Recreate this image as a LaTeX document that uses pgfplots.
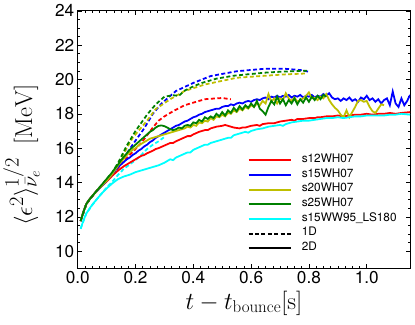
\documentclass[border=0pt]{standalone}
\usepackage[no-math]{fontspec}
\setmainfont{TeX Gyre Heros}
\usepackage{pgfplots}
\pgfplotsset{compat=1.18}
\DeclareMathSizes{24}{24}{20}{15}

\definecolor{myyellow}{rgb}{0.75,0.75,0}
\definecolor{mygreen}{rgb}{0,0.5,0}
\definecolor{mycyan}{rgb}{0,1,1}

\begin{document}
\begin{tikzpicture}
% fixed frame, same proportions as the reference
\path (-73bp,-57bp) rectangle (342bp,272bp);
\begin{axis}[
    scale only axis,
    width=337bp, height=261bp,
    xmin=0, xmax=1.15,
    ymin=9, ymax=24,
    xtick={0,0.2,0.4,0.6,0.8,1.0},
    ytick={10,12,14,16,18,20,22,24},
    minor x tick num=7,
    minor y tick num=3,
    major tick length=4bp,
    minor tick length=2bp,
    tick align=inside,
    axis line style={line width=0.8bp},
    every tick/.style={black, line width=0.5bp},
    tick label style={font=\fontsize{17.5}{19}\selectfont},
    /pgf/number format/assume math mode=true,
    xticklabel style={/pgf/number format/fixed, /pgf/number format/fixed zerofill, /pgf/number format/precision=1},
    xlabel={\fontsize{26}{28}\selectfont $t - t_{\mathrm{bounce}}[\mathrm{s}]$},
    ylabel={\fontsize{24}{26}\selectfont $\langle\epsilon^2\rangle^{1/2}_{\bar{\nu}_e}\;\;[\mathrm{MeV}]$},
    every axis y label/.style={at={(axis description cs:-0.104,0.44)}, rotate=90, anchor=south},
    legend image code/.code={\draw[#1] (0bp,0bp) -- (43bp,0bp);},
    legend style={at={(axis description cs:0.511,0.446)}, anchor=north west,
        draw=none, fill=none, font=\fontsize{12}{13}\selectfont,
        inner sep=0pt, row sep=1.2bp, column sep=8bp,
        nodes={inner ysep=0pt, text height=9bp, text depth=4.67bp}},
    legend cell align=left,
]

% ---- 1D (dashed) ----
\addplot[red, line width=1.8bp, dash pattern=on 4bp off 2.5bp, forget plot] coordinates {
(0.01,11.75) (0.03,12.75) (0.06,13.4) (0.10,14.1) (0.12,14.5) (0.14,14.85)
(0.16,15.25) (0.18,15.6) (0.20,15.95) (0.22,16.3) (0.24,16.75) (0.26,17.2)
(0.28,17.6) (0.30,17.85) (0.33,18.15) (0.37,18.5) (0.40,18.65) (0.44,18.85)
(0.48,18.9) (0.50,18.92) (0.53,18.85)
};
\addplot[blue, line width=1.8bp, dash pattern=on 4bp off 2.5bp, forget plot] coordinates {
(0.01,11.75) (0.03,12.75) (0.06,13.4) (0.10,14.1) (0.12,14.5) (0.15,15.2)
(0.19,16.2) (0.23,17.15) (0.26,18.0) (0.29,18.6) (0.34,19.33) (0.40,19.8)
(0.46,20.2) (0.55,20.48) (0.65,20.63) (0.72,20.62) (0.77,20.55) (0.80,20.45)
};
\addplot[myyellow, line width=1.8bp, dash pattern=on 4bp off 2.5bp, forget plot] coordinates {
(0.01,11.75) (0.03,12.75) (0.06,13.4) (0.10,14.1) (0.12,14.5) (0.15,15.4)
(0.19,16.6) (0.24,17.6) (0.27,18.28) (0.32,18.85) (0.37,19.33) (0.44,19.71)
(0.55,20.1) (0.65,20.22) (0.72,20.3) (0.79,20.35)
};
\addplot[mygreen, line width=1.8bp, dash pattern=on 4bp off 2.5bp, forget plot] coordinates {
(0.01,11.75) (0.03,12.75) (0.06,13.4) (0.10,14.2) (0.12,14.6) (0.14,15.15)
(0.17,16.15) (0.20,17.0) (0.24,17.95) (0.27,18.55) (0.30,19.0) (0.33,19.08)
(0.35,19.05) (0.37,19.35) (0.40,19.6) (0.43,19.8) (0.48,20.05) (0.54,20.22)
(0.60,20.32) (0.65,20.4) (0.70,20.45) (0.77,20.5) (0.80,20.52)
};
\addplot[mycyan, line width=1.8bp, dash pattern=on 4bp off 2.5bp, forget plot] coordinates {
(0.01,11.3) (0.03,12.2) (0.06,12.9) (0.10,13.7) (0.12,14.05) (0.14,14.45)
(0.16,14.8) (0.18,15.05) (0.20,15.3) (0.22,15.6) (0.24,15.95) (0.26,16.2)
(0.28,16.4) (0.30,16.65)
};

% ---- 2D (solid) ----
\addplot[red, line width=1.8bp] coordinates {
(0.01,11.75) (0.02,12.3) (0.03,12.75) (0.04,13.0) (0.05,13.2) (0.06,13.4)
(0.08,13.75) (0.10,14.05) (0.12,14.4) (0.14,14.7) (0.16,14.95) (0.18,15.15)
(0.20,15.35) (0.22,15.55) (0.23,15.6) (0.24,15.7) (0.26,15.85) (0.27,15.95)
(0.28,16.0) (0.30,16.15) (0.32,16.3) (0.33,16.3) (0.34,16.4) (0.36,16.55)
(0.38,16.7) (0.39,16.7) (0.40,16.8) (0.42,16.95) (0.44,17.05) (0.45,17.05)
(0.46,17.15) (0.48,17.25) (0.50,17.3) (0.51,17.35) (0.52,17.3) (0.54,17.2)
(0.56,17.15) (0.57,17.2) (0.58,17.2) (0.60,17.3) (0.62,17.35) (0.63,17.3)
(0.64,17.4) (0.66,17.45) (0.68,17.45) (0.69,17.5) (0.70,17.55) (0.72,17.6)
(0.74,17.65) (0.75,17.6) (0.76,17.7) (0.78,17.7) (0.80,17.75) (0.82,17.75)
(0.83,17.8) (0.84,17.8) (0.86,17.85) (0.88,17.85) (0.90,17.9) (0.92,17.85)
(0.94,17.9) (0.96,17.95) (0.98,17.95) (1.00,18.0) (1.02,17.95) (1.04,18.0)
(1.06,18.0) (1.08,18.05) (1.10,18.0) (1.12,18.05) (1.15,18.1)
};
\addlegendentry{s12WH07}
\addplot[blue, line width=1.8bp] coordinates {
(0.01,11.75) (0.02,12.3) (0.03,12.75) (0.04,13.0) (0.05,13.2) (0.06,13.4)
(0.07,13.55) (0.08,13.75) (0.09,13.9) (0.10,14.1) (0.11,14.3) (0.12,14.5)
(0.13,14.7) (0.14,14.9) (0.15,15.05) (0.16,15.2) (0.17,15.35) (0.18,15.45)
(0.19,15.6) (0.20,15.7) (0.21,15.85) (0.22,15.95) (0.23,16.1) (0.24,16.2)
(0.25,16.35) (0.26,16.45) (0.27,16.6) (0.28,16.7) (0.29,16.8) (0.30,16.9)
(0.31,17.0) (0.32,17.1) (0.33,17.2) (0.34,17.3) (0.35,17.35) (0.36,17.45)
(0.37,17.55) (0.38,17.6) (0.39,17.7) (0.40,17.8) (0.41,17.85) (0.42,17.95)
(0.43,18.0) (0.44,18.1) (0.45,18.15) (0.46,18.2) (0.47,18.25) (0.48,18.3)
(0.49,18.3) (0.50,18.4) (0.51,18.45) (0.52,18.45) (0.53,18.55) (0.54,18.5)
(0.55,18.6) (0.56,18.65) (0.57,18.6) (0.58,18.7) (0.59,18.75) (0.60,18.7)
(0.61,18.8) (0.62,18.85) (0.63,18.8) (0.64,18.9) (0.65,18.95) (0.66,18.85)
(0.67,19.0) (0.68,18.95) (0.69,19.05) (0.70,18.95) (0.71,19.05) (0.72,19.0)
(0.73,19.1) (0.74,18.95) (0.75,19.05) (0.76,19.0) (0.77,19.1) (0.78,18.95)
(0.79,19.05) (0.80,19.0) (0.81,19.1) (0.82,18.95) (0.83,19.05) (0.84,19.0)
(0.85,19.15) (0.86,19.05) (0.87,19.2) (0.88,18.95) (0.89,18.85) (0.90,18.9)
(0.91,18.75) (0.92,18.9) (0.93,18.8) (0.94,18.95) (0.95,18.75) (0.96,18.85)
(0.97,18.7) (0.98,18.95) (0.99,18.85) (1.00,19.05) (1.01,18.8) (1.02,18.9)
(1.03,18.7) (1.04,18.85) (1.05,18.6) (1.06,18.8) (1.07,18.9) (1.08,18.5)
(1.09,19.3) (1.10,18.6) (1.11,18.4) (1.12,18.9) (1.13,18.5) (1.14,18.75)
(1.15,19.1)
};
\addlegendentry{s15WH07}
\addplot[myyellow, line width=1.8bp] coordinates {
(0.01,11.75) (0.02,12.3) (0.03,12.75) (0.04,13.0) (0.05,13.2) (0.06,13.4)
(0.08,13.75) (0.10,14.1) (0.12,14.5) (0.13,14.75) (0.14,15.0) (0.15,15.2)
(0.16,15.4) (0.17,15.6) (0.18,15.75) (0.19,15.9) (0.20,16.0) (0.21,16.15)
(0.22,16.25) (0.23,16.35) (0.24,16.45) (0.25,16.55) (0.26,16.6) (0.27,16.65)
(0.28,16.7) (0.29,16.75) (0.30,16.8) (0.31,16.85) (0.32,16.9) (0.33,16.95)
(0.34,17.0) (0.35,17.05) (0.36,17.1) (0.37,17.15) (0.38,17.25) (0.39,17.2)
(0.40,17.35) (0.41,17.3) (0.42,17.5) (0.43,17.45) (0.44,17.6) (0.45,17.55)
(0.46,17.75) (0.47,17.65) (0.48,17.85) (0.49,17.8) (0.50,17.95) (0.51,17.85)
(0.52,18.05) (0.53,18.0) (0.54,18.2) (0.55,18.1) (0.56,18.3) (0.57,18.2)
(0.58,18.4) (0.59,18.3) (0.60,18.5) (0.61,18.4) (0.62,18.6) (0.63,18.5)
(0.64,18.75) (0.65,18.6) (0.66,19.15) (0.67,18.7) (0.68,18.9) (0.69,18.6)
(0.70,18.9) (0.71,18.8) (0.72,19.2) (0.73,18.9) (0.74,18.75) (0.75,18.95)
(0.76,18.7) (0.77,18.8) (0.78,18.9) (0.79,19.05) (0.80,19.25) (0.81,18.9)
(0.82,18.95) (0.83,18.8) (0.84,19.0) (0.85,18.9) (0.86,19.15) (0.87,18.8)
(0.88,18.55) (0.89,18.35) (0.90,18.2) (0.91,17.95) (0.92,17.8) (0.93,18.2)
(0.94,17.8) (0.95,18.1) (0.96,18.4) (0.97,18.75) (0.98,18.8) (0.99,18.7)
(1.00,18.75) (1.01,18.4) (1.02,18.15) (1.03,18.05) (1.04,18.3) (1.05,18.55)
(1.06,18.5)
};
\addlegendentry{s20WH07}
\addplot[mygreen, line width=1.8bp] coordinates {
(0.01,11.75) (0.02,12.3) (0.03,12.75) (0.04,13.0) (0.05,13.2) (0.06,13.4)
(0.07,13.6) (0.08,13.8) (0.09,14.0) (0.10,14.2) (0.11,14.4) (0.12,14.6)
(0.13,14.85) (0.14,15.05) (0.15,15.3) (0.16,15.5) (0.17,15.7) (0.18,15.9)
(0.19,16.05) (0.20,16.2) (0.21,16.35) (0.22,16.5) (0.23,16.65) (0.24,16.8)
(0.25,16.95) (0.26,17.05) (0.27,17.2) (0.28,17.3) (0.29,17.32) (0.30,17.28)
(0.31,17.2) (0.32,17.1) (0.33,17.05) (0.34,17.1) (0.35,17.2) (0.36,17.15)
(0.37,17.3) (0.38,17.35) (0.39,17.3) (0.40,17.5) (0.41,17.45) (0.42,17.65)
(0.43,17.55) (0.44,17.8) (0.45,17.7) (0.46,17.85) (0.47,17.75) (0.48,18.0)
(0.49,17.85) (0.50,18.1) (0.51,17.9) (0.52,18.2) (0.53,18.05) (0.54,18.35)
(0.55,18.15) (0.56,18.45) (0.57,18.25) (0.58,18.5) (0.59,18.35) (0.60,18.6)
(0.61,18.4) (0.62,18.75) (0.63,18.3) (0.64,18.15) (0.65,17.95) (0.66,18.4)
(0.67,18.75) (0.68,18.55) (0.69,19.0) (0.70,18.6) (0.71,18.85) (0.72,18.5)
(0.73,18.8) (0.74,18.6) (0.75,18.9) (0.76,18.55) (0.77,18.85) (0.78,18.65)
(0.79,18.95) (0.80,18.7) (0.81,19.0) (0.82,18.8) (0.83,19.05) (0.84,18.85)
(0.85,19.1) (0.86,19.0)
};
\addlegendentry{s25WH07}
\addplot[mycyan, line width=1.8bp] coordinates {
(0.01,11.3) (0.02,11.8) (0.03,12.2) (0.04,12.45) (0.05,12.7) (0.06,12.9)
(0.08,13.3) (0.10,13.65) (0.12,13.95) (0.14,14.2) (0.16,14.35) (0.18,14.45)
(0.20,14.6) (0.22,14.7) (0.24,14.8) (0.25,14.85) (0.26,14.9) (0.28,15.0)
(0.30,15.15) (0.32,15.35) (0.33,15.3) (0.34,15.45) (0.36,15.6) (0.38,15.75)
(0.39,15.75) (0.40,15.9) (0.42,16.05) (0.44,16.2) (0.45,16.2) (0.46,16.3)
(0.48,16.4) (0.50,16.5) (0.52,16.6) (0.53,16.6) (0.54,16.75) (0.56,16.85)
(0.58,16.95) (0.59,16.9) (0.60,17.0) (0.62,17.1) (0.64,17.15) (0.66,17.25)
(0.68,17.3) (0.70,17.35) (0.71,17.3) (0.72,17.4) (0.74,17.5) (0.76,17.55)
(0.78,17.6) (0.80,17.6) (0.82,17.65) (0.84,17.7) (0.86,17.75) (0.88,17.75)
(0.90,17.8) (0.92,17.75) (0.94,17.8) (0.96,17.85) (0.98,17.85) (1.00,17.9)
(1.02,17.9) (1.04,17.9) (1.06,17.9) (1.08,17.95) (1.10,17.95) (1.12,18.0)
(1.15,17.95)
};
\addlegendentry{s15WW95\_LS180}

\addlegendimage{black, line width=1.8bp, dash pattern=on 4bp off 2.5bp}
\addlegendentry{1D}
\addlegendimage{black, line width=1.8bp}
\addlegendentry{2D}

\end{axis}
\end{tikzpicture}
\end{document}
